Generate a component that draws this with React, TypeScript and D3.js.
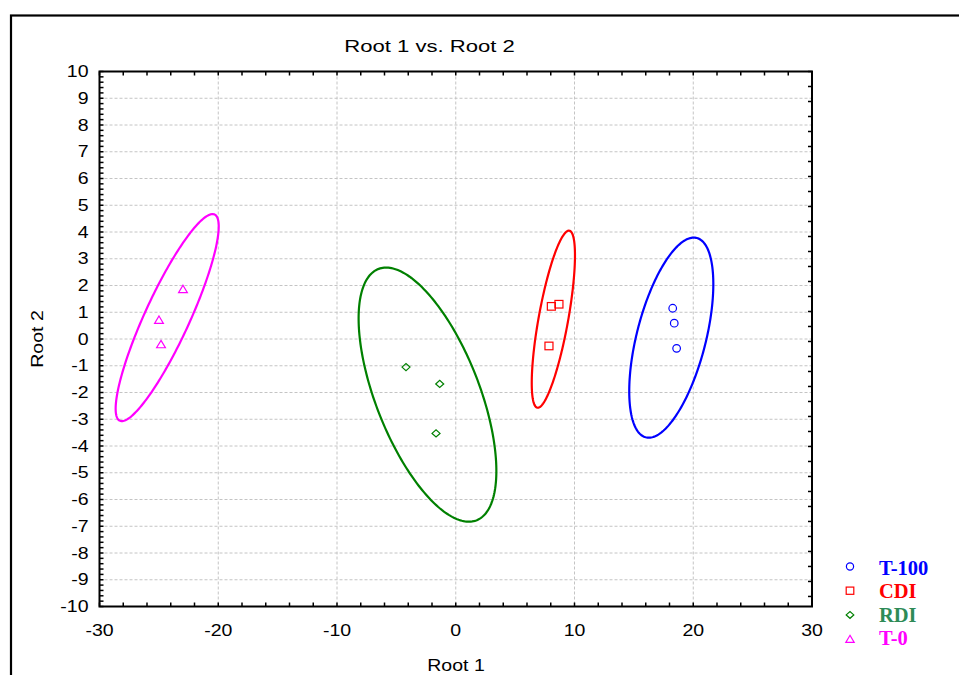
import React from "react";
import * as d3 from "d3";

// ---- data ----
const groups = ["T-100", "CDI", "RDI", "T-0"];
const t100X = [18.27, 18.4, 18.6];
const t100Y = [1.15, 0.59, -0.35];
const cdiX = [8.05, 8.69, 7.85];
const cdiY = [1.22, 1.3, -0.26];
const rdiX = [-4.19, -1.35, -1.66];
const rdiY = [-1.05, -1.68, -3.53];
const t0X = [-22.97, -24.99, -24.82];
const t0Y = [1.86, 0.71, -0.2];

// confidence ellipses: center, half extents, correlation
const ellCX = [18.15, 8.22, -2.38, -24.3];
const ellCY = [0.05, 0.74, -2.08, 0.8];
const ellHX = [3.54, 1.82, 5.8, 4.34];
const ellHY = [3.74, 3.31, 4.75, 3.87];
const ellRho = [0.535, 0.72, -0.6, 0.88];

const xTicks = [-30, -20, -10, 0, 10, 20, 30];
const yTicks = d3.range(-10, 11, 1);

const markColors = ["#0000ff", "#ff0000", "#008000", "#ff00ff"];
const legendColors = ["#0000ff", "#ff0000", "#2e8b57", "#ff00ff"];
const shapes = ["circle", "square", "diamond", "triangle"];

const W = 959;
const H = 675;

export default function App() {
  const x = d3.scaleLinear().domain([-30, 30]).range([99.5, 812]);
  const y = d3.scaleLinear().domain([-10, 10]).range([606.5, 71.5]);
  const [x0, x1] = x.range();
  const [y0, y1] = [y(10), y(-10)];

  const seriesX = [t100X, cdiX, rdiX, t0X];
  const seriesY = [t100Y, cdiY, rdiY, t0Y];

  const ellLine = d3
    .line<[number, number]>()
    .x((d) => x(d[0]))
    .y((d) => y(d[1]))
    .curve(d3.curveLinearClosed);

  const ellipsePath = (i: number) => {
    const n = 240;
    const r = ellRho[i];
    const pts: [number, number][] = d3.range(n).map((k) => {
      const t = (k / n) * Math.PI * 2;
      return [
        ellCX[i] + ellHX[i] * Math.cos(t),
        ellCY[i] + ellHY[i] * (r * Math.cos(t) + Math.sqrt(1 - r * r) * Math.sin(t)),
      ];
    });
    return ellLine(pts) as string;
  };

  const marker = (shape: string, cx: number, cy: number, color: string, key: string, s = 1) => {
    const common = { fill: "none", stroke: color, strokeWidth: 1.2 } as const;
    if (shape === "circle") return <circle key={key} cx={cx} cy={cy} r={3.8 * s} {...common} />;
    if (shape === "square")
      return <rect key={key} x={cx - 4 * s} y={cy - 3.8 * s} width={8 * s} height={7.6 * s} {...common} />;
    if (shape === "diamond")
      return (
        <path
          key={key}
          d={`M${cx - 4 * s},${cy} L${cx},${cy - 3.6 * s} L${cx + 4 * s},${cy} L${cx},${cy + 3.6 * s} Z`}
          {...common}
        />
      );
    return (
      <path
        key={key}
        d={`M${cx},${cy - 4 * s} L${cx + 4.4 * s},${cy + 3.4 * s} L${cx - 4.4 * s},${cy + 3.4 * s} Z`}
        {...common}
      />
    );
  };

  const xMinor = d3.range(-30, 30.01, 2);
  const yMinor = d3.range(-10, 10.001, 0.2);
  const rightMinor = d3.range(10, -10.001, -0.5607);

  const font = "Arial, 'Liberation Sans', sans-serif";
  const stretch = 1.22;

  return (
    <svg
      width={W}
      height={H}
      style={{ position: "absolute", left: 0, top: 0, background: "#fff" }}
      fontFamily={font}
    >
      <rect x={0} y={0} width={W} height={H} fill="#fff" />
      {/* outer frame */}
      <rect x={11} y={15.5} width={1200} height={1200} fill="none" stroke="#000" strokeWidth={2.2} />

      {/* title */}
      <text
        transform={`translate(${429.5},${52}) scale(1.3,1)`}
        textAnchor="middle"
        fontSize={17}
        fill="#000"
      >
        Root 1 vs. Root 2
      </text>

      {/* grid */}
      <g stroke="#c4c4c4" strokeWidth={1} strokeDasharray="3,2">
        {xTicks.slice(1, -1).map((v) => (
          <line key={"gx" + v} x1={x(v)} x2={x(v)} y1={y0} y2={y1} />
        ))}
        {yTicks.slice(1, -1).map((v) => (
          <line key={"gy" + v} x1={x0} x2={x1} y1={y(v)} y2={y(v)} />
        ))}
      </g>

      {/* ellipses */}
      {groups.map((g, i) => (
        <path key={"e" + g} d={ellipsePath(i)} fill="none" stroke={markColors[i]} strokeWidth={2.2} />
      ))}

      {/* points */}
      {groups.map((g, i) =>
        seriesX[i].map((vx, j) => marker(shapes[i], x(vx), y(seriesY[i][j]), markColors[i], g + j))
      )}

      {/* ticks */}
      <g stroke="#000" strokeWidth={1.5}>
        {xMinor.map((v) => (
          <g key={"tx" + v}>
            <line x1={x(v)} x2={x(v)} y1={y1} y2={y1 - 4} />
            <line x1={x(v)} x2={x(v)} y1={y0} y2={y0 + 4} />
          </g>
        ))}
        {yMinor.map((v, k) => (
          <line key={"ty" + k} x1={x0} x2={x0 + 4} y1={y(v)} y2={y(v)} />
        ))}
        {rightMinor.map((v, k) => (
          <line key={"tr" + k} x1={x1} x2={x1 - 4} y1={y(v)} y2={y(v)} />
        ))}
      </g>

      {/* plot border */}
      <rect x={x0} y={y0} width={x1 - x0} height={y1 - y0} fill="none" stroke="#000" strokeWidth={2} />

      {/* y tick labels */}
      {yTicks.map((v) => (
        <text
          key={"ly" + v}
          transform={`translate(${88.5},${y(v) + 5.7}) scale(${stretch},1)`}
          textAnchor="end"
          fontSize={16}
          fill="#000"
        >
          {v}
        </text>
      ))}

      {/* x tick labels */}
      {xTicks.map((v) => (
        <text
          key={"lx" + v}
          transform={`translate(${x(v)},${636}) scale(${stretch},1)`}
          textAnchor="middle"
          fontSize={16}
          fill="#000"
        >
          {v}
        </text>
      ))}

      {/* axis titles */}
      <text
        transform={`translate(${456},${671}) scale(${stretch},1)`}
        textAnchor="middle"
        fontSize={16}
        fill="#000"
      >
        Root 1
      </text>
      <text
        transform={`translate(${43},${339}) rotate(-90) scale(${stretch},1)`}
        textAnchor="middle"
        fontSize={16}
        fill="#000"
      >
        Root 2
      </text>

      {/* legend */}
      {groups.map((g, i) => (
        <g key={"lg" + g}>
          {marker(shapes[i], 850, 566.5 + i * 24.2, markColors[i], "lm" + g, 0.95)}
          <text
            x={879}
            y={575 + i * 23.4}
            fontFamily="'Liberation Serif', 'Times New Roman', serif"
            fontWeight="bold"
            fontSize={20.5}
            fill={legendColors[i]}
          >
            {g}
          </text>
        </g>
      ))}
    </svg>
  );
}
